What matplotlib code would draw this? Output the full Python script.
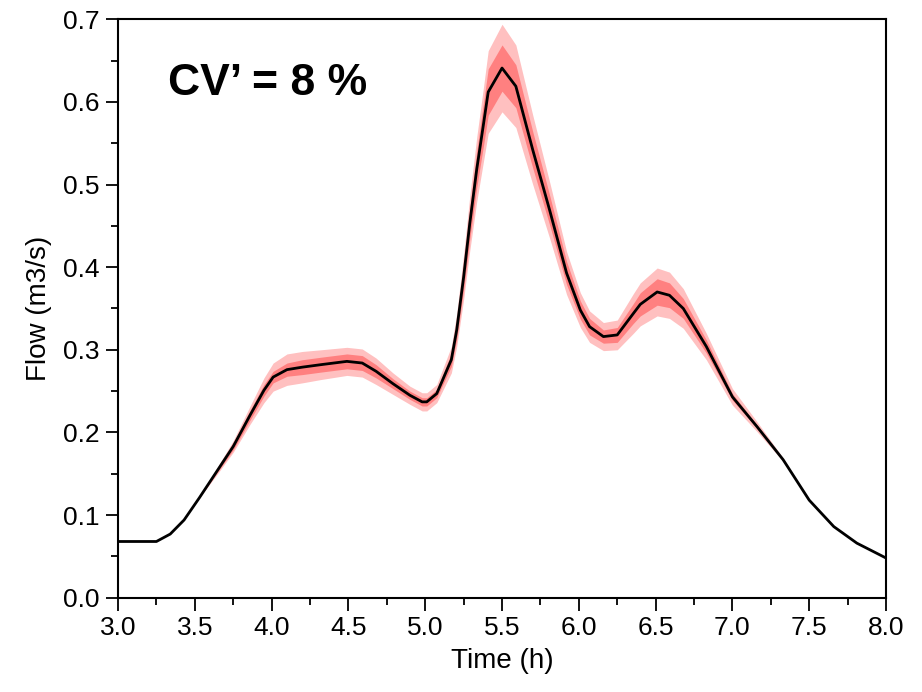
import matplotlib
matplotlib.use("Agg")
import matplotlib.pyplot as plt
import numpy as np
from matplotlib.ticker import MultipleLocator, FormatStrFormatter

plt.rcParams['font.family'] = ['Liberation Sans', 'DejaVu Sans']

time_h = [3.0, 3.25, 3.34, 3.43, 3.53, 3.64, 3.75, 3.86, 3.95, 4.01, 4.1, 4.2, 4.32, 4.49, 4.59,
          4.68, 4.79, 4.9, 4.98, 5.01, 5.075, 5.17, 5.205, 5.25, 5.29, 5.335, 5.38, 5.41, 5.5,
          5.59, 5.7, 5.81, 5.92, 6.01, 6.07, 6.16, 6.25, 6.355, 6.4, 6.51, 6.59, 6.68, 6.83,
          7.0, 7.16, 7.33, 7.5, 7.66, 7.81, 8.0]
flow = [0.068, 0.068, 0.077, 0.094, 0.121, 0.152, 0.183, 0.221, 0.251, 0.267, 0.276, 0.279, 0.282,
        0.286, 0.284, 0.274, 0.259, 0.245, 0.237, 0.237, 0.247, 0.288, 0.324, 0.388, 0.453, 0.518,
        0.574, 0.612, 0.641, 0.619, 0.542, 0.469, 0.393, 0.348, 0.328, 0.316, 0.318, 0.344, 0.355,
        0.370, 0.366, 0.350, 0.304, 0.243, 0.207, 0.167, 0.118, 0.086, 0.066, 0.048]
inner_half = [0.0, 0.0, 0.0, 0.0, 0.0, 0.002, 0.004, 0.006, 0.007, 0.007, 0.008, 0.009, 0.009,
              0.009, 0.009, 0.008, 0.006, 0.005, 0.005, 0.005, 0.005, 0.008, 0.011, 0.015, 0.019,
              0.022, 0.026, 0.028, 0.028, 0.026, 0.022, 0.018, 0.014, 0.011, 0.010, 0.008, 0.009,
              0.012, 0.014, 0.016, 0.015, 0.012, 0.008, 0.004, 0.002, 0.001, 0.0, 0.0, 0.0, 0.0]
outer_half = [0.0, 0.0, 0.0, 0.0, 0.0, 0.004, 0.007, 0.011, 0.015, 0.017, 0.019, 0.019, 0.018,
              0.017, 0.017, 0.016, 0.013, 0.011, 0.011, 0.011, 0.011, 0.016, 0.020, 0.027, 0.033,
              0.039, 0.045, 0.050, 0.053, 0.050, 0.042, 0.034, 0.026, 0.021, 0.019, 0.017, 0.018,
              0.024, 0.026, 0.029, 0.028, 0.024, 0.016, 0.010, 0.006, 0.002, 0.0, 0.0, 0.0, 0.0]

t = np.array(time_h)
q = np.array(flow)
ih = np.array(inner_half)
oh = np.array(outer_half)

fig = plt.figure(figsize=(9.22, 6.92), dpi=100)
ax = fig.add_axes([0.128, 0.1363, 0.833, 0.8358])

ax.fill_between(t, q - oh, q + oh, color='#FFC0C0', lw=0)
ax.fill_between(t, q - ih, q + ih, color='#FF8080', lw=0)
ax.plot(t, q, color='black', lw=2)

ax.set_xlim(3.0, 8.0)
ax.set_ylim(0.0, 0.7)
ax.xaxis.set_major_locator(MultipleLocator(0.5))
ax.xaxis.set_minor_locator(MultipleLocator(0.25))
ax.yaxis.set_major_locator(MultipleLocator(0.1))
ax.yaxis.set_minor_locator(MultipleLocator(0.05))
ax.xaxis.set_major_formatter(FormatStrFormatter('%.1f'))
ax.yaxis.set_major_formatter(FormatStrFormatter('%.1f'))
ax.tick_params(which='major', direction='out', length=9, width=1.3, labelsize=19, pad=4)
ax.tick_params(which='minor', direction='out', length=5, width=1.3)
for s in ax.spines.values():
    s.set_linewidth(1.5)

ax.set_xlabel('Time (h)', fontsize=20, labelpad=6)
ax.set_ylabel('Flow (m3/s)', fontsize=20, labelpad=8)

ax.text(3.325, 0.608, 'CV\u2019 = 8 %', fontsize=32, fontweight='bold', ha='left', va='baseline')

fig.savefig('out.png', dpi=100)
